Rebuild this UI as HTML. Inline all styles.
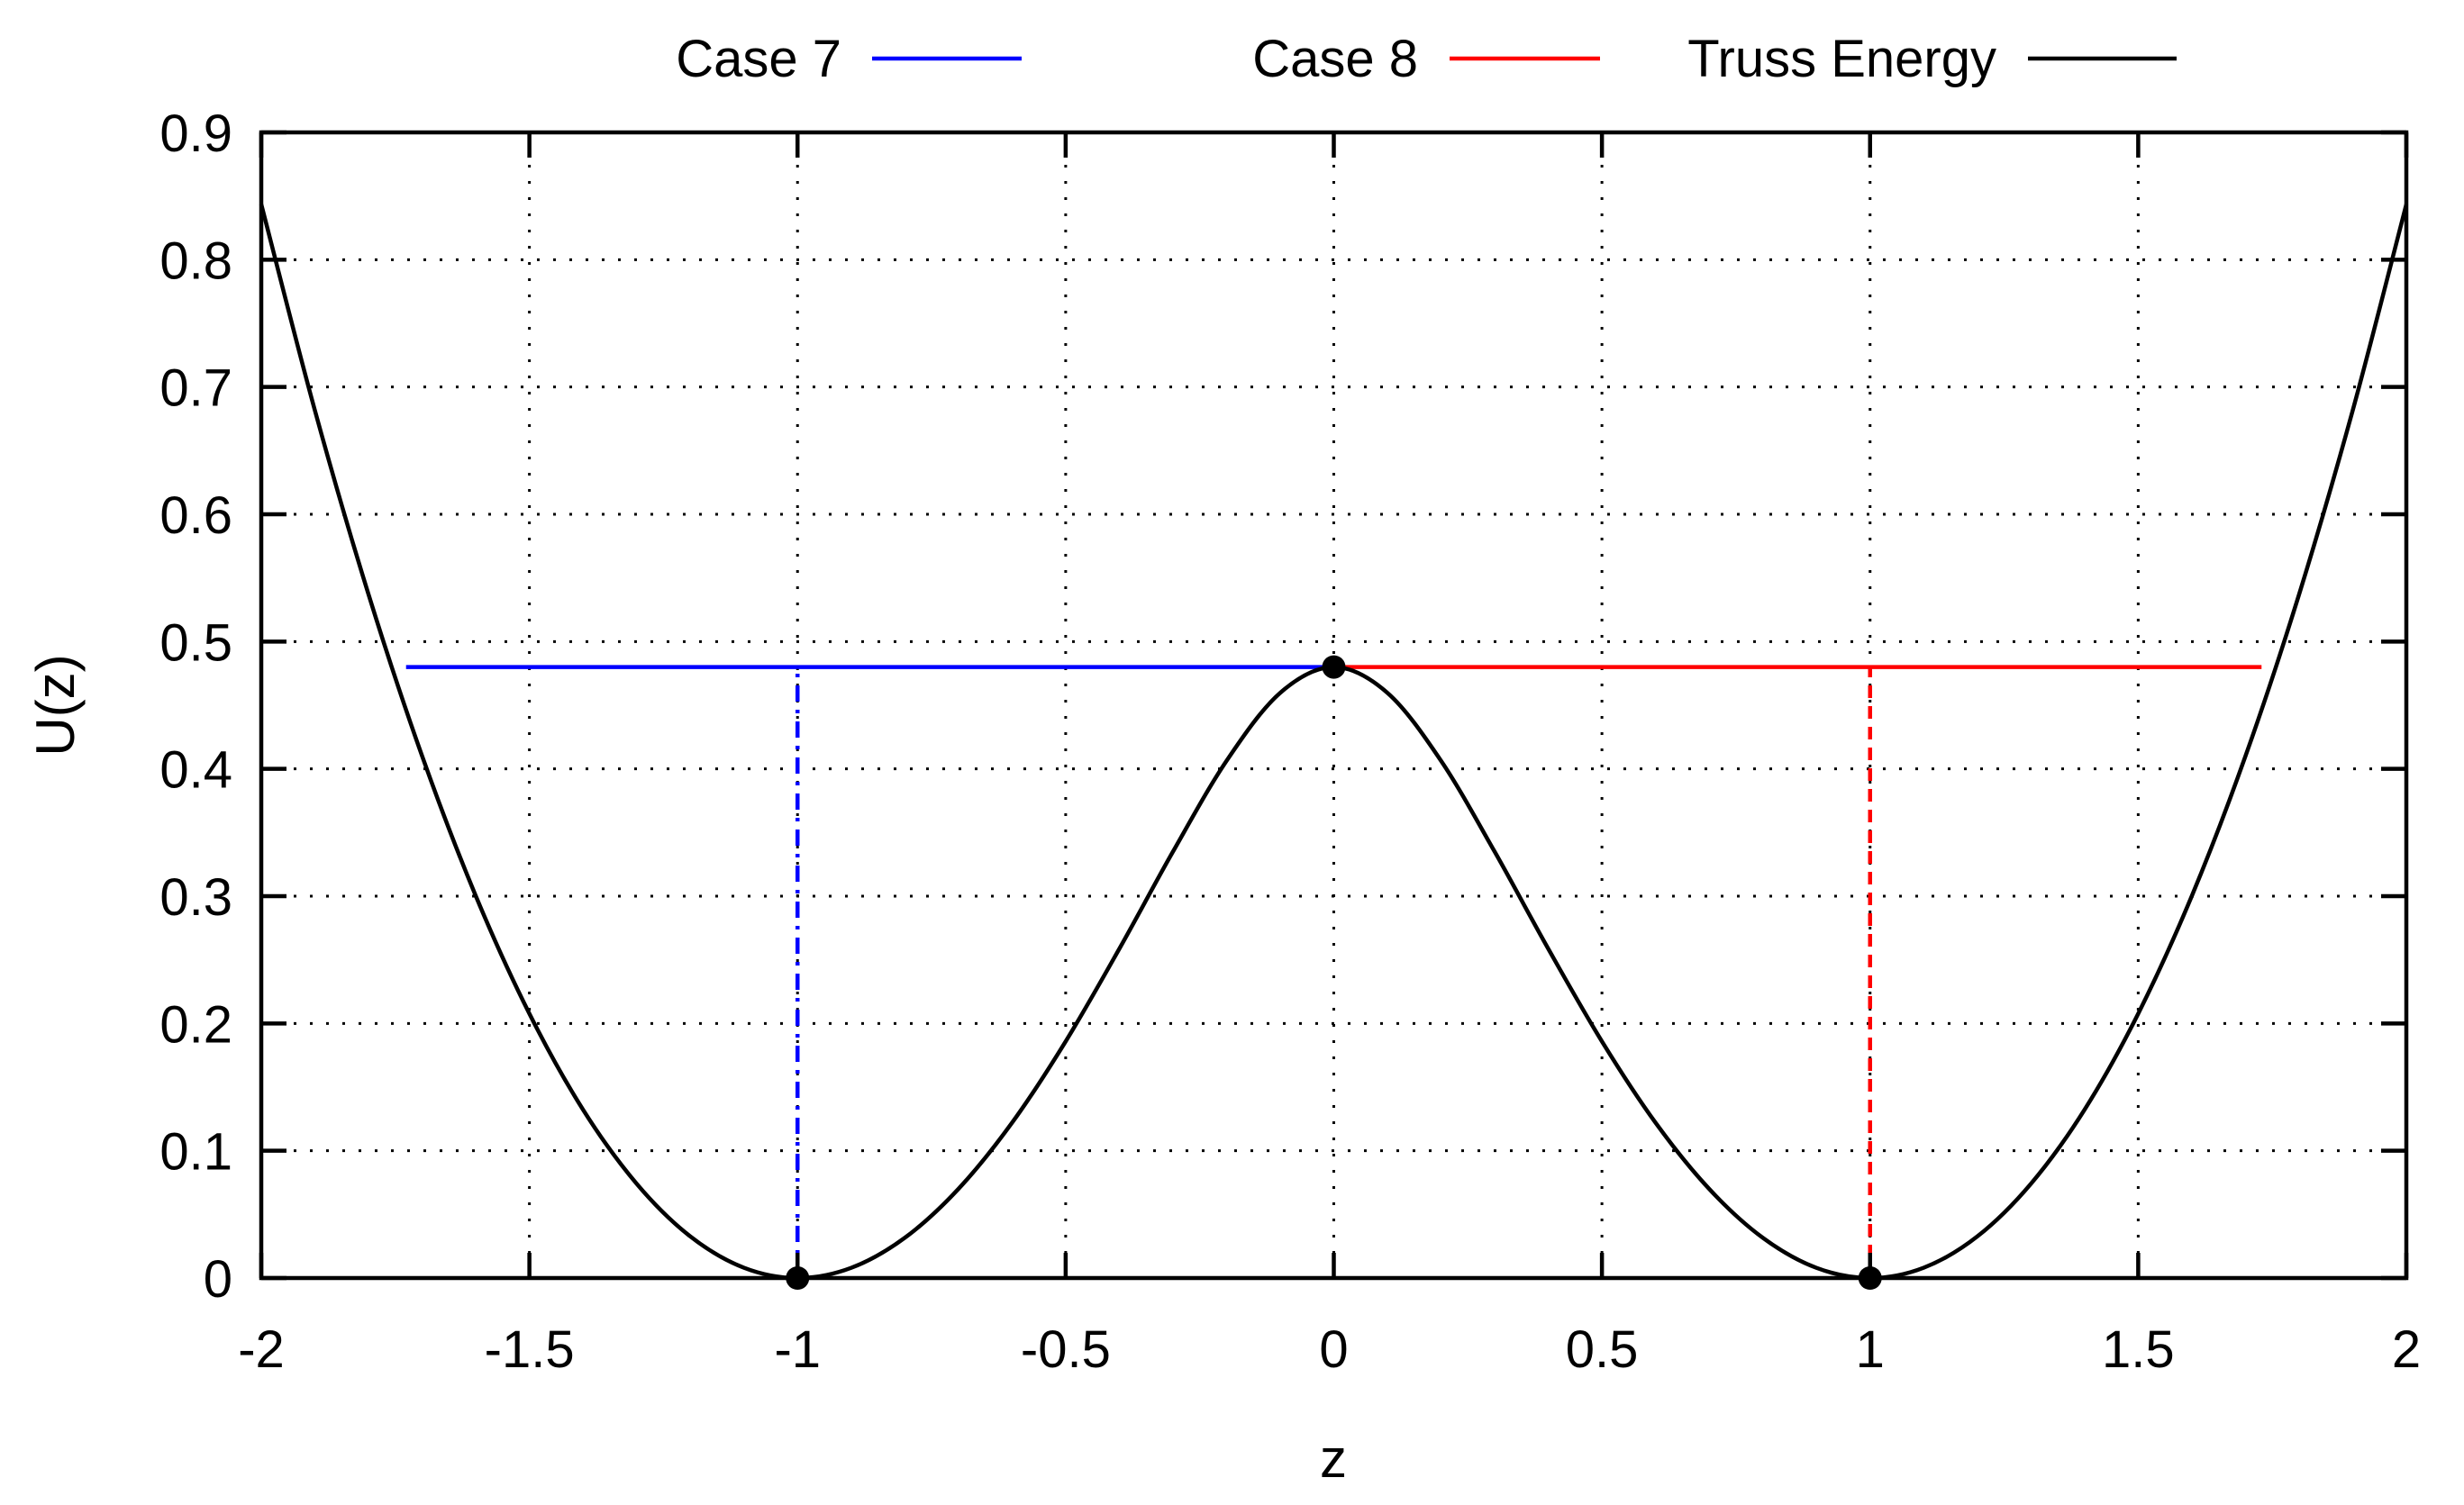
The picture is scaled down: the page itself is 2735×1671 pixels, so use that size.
<!DOCTYPE html>
<html><head><meta charset="utf-8"><style>
html,body{margin:0;padding:0;background:#fff}
svg text{font-family:"Liberation Sans","DejaVu Sans",sans-serif;fill:#000}
</style></head><body>
<svg id="chart" width="2735" height="1666" viewBox="0 0 2735 1666" xmlns="http://www.w3.org/2000/svg">
<rect width="2735" height="1666" fill="#fff"/>
<g id="grid"></g>
<g id="series"></g>
<rect x="290" y="147" width="2381" height="1272" fill="none" stroke="#000" stroke-width="4.5"/>
<g id="ticks"></g>
<text x="1480" y="1640" font-size="60" text-anchor="middle">z</text>
<text transform="translate(82,783) rotate(-90)" font-size="60" text-anchor="middle">U(z)</text>
<g>
<g><text x="934" y="85" font-size="58" text-anchor="end">Case 7</text><line x1="968" y1="65" x2="1134" y2="65" stroke="#00f" stroke-width="4.5"/></g>
<g><text x="1574" y="85" font-size="58" text-anchor="end">Case 8</text><line x1="1609" y1="65" x2="1776" y2="65" stroke="#f00" stroke-width="4.5"/></g>
<g><text x="2216" y="85" font-size="58" text-anchor="end">Truss Energy</text><line x1="2251" y1="65" x2="2416" y2="65" stroke="#000" stroke-width="4.5"/></g>
</g>
</svg>
<script>
const xTicks=[-2,-1.5,-1,-0.5,0,0.5,1,1.5,2];
const xTickLabels=["-2","-1.5","-1","-0.5","0","0.5","1","1.5","2"];
const yTicks=[0,0.1,0.2,0.3,0.4,0.5,0.6,0.7,0.8,0.9];
const yTickLabels=["0","0.1","0.2","0.3","0.4","0.5","0.6","0.7","0.8","0.9"];
const trussZ=[-2,-1.9,-1.8,-1.7,-1.6,-1.5,-1.4,-1.3,-1.2,-1.1,-1,-0.9,-0.8,-0.7,-0.6,-0.5,-0.4,-0.3,-0.2,-0.1,0,0.1,0.2,0.3,0.4,0.5,0.6,0.7,0.8,0.9,1,1.1,1.2,1.3,1.4,1.5,1.6,1.7,1.8,1.9,2];
const trussU=[0.8435,0.6816,0.5371,0.41,0.3002,0.2077,0.1323,0.0741,0.0327,0.0081,0,0.008,0.0316,0.07,0.122,0.1859,0.2586,0.3349,0.4063,0.4597,0.48,0.4597,0.4063,0.3349,0.2586,0.1859,0.122,0.07,0.0316,0.008,0,0.0081,0.0327,0.0741,0.1323,0.2077,0.3002,0.41,0.5371,0.6816,0.8435];
const case7Level=[-1.73,0,0.48];
const case8Level=[0,1.73,0.48];
const case7Min=[-1,0];
const case8Min=[1,0];
const pointsZ=[-1,0,1];
const pointsU=[0,0.48,0];

const X0=290,X1=2671,Y0=1419,Y1=147;
const sx=v=>X0+(v+2)/4*(X1-X0);
const sy=v=>Y0-v/0.9*(Y0-Y1);
const NS="http://www.w3.org/2000/svg";
function mk(parent,tag,attrs){const e=document.createElementNS(NS,tag);for(const k in attrs)e.setAttribute(k,attrs[k]);document.getElementById(parent).appendChild(e);return e;}

xTicks.forEach((t,i)=>{
 const x=sx(t);
 if(i>0&&i<xTicks.length-1){const g=mk('grid','line',{x1:x,y1:Y1,x2:x,y2:Y0,stroke:'#000','stroke-width':3,'stroke-dasharray':'3 15'});
 
 }
 const a=mk('ticks','path',{d:`M${x},${Y0}v-28M${x},${Y1}v28`,stroke:'#000','stroke-width':4.5});
 
 
 const l=mk('ticks','text',{x:x,y:1518,'font-size':58,'text-anchor':'middle'});l.textContent=xTickLabels[i];
 
 
});
yTicks.forEach((t,i)=>{
 const y=sy(t);
 if(i>0&&i<yTicks.length-1){const g=mk('grid','line',{x1:X0,y1:y,x2:X1,y2:y,stroke:'#000','stroke-width':3,'stroke-dasharray':'3 15'});
 
 }
 const a=mk('ticks','path',{d:`M${X0},${y}h28M${X1},${y}h-28`,stroke:'#000','stroke-width':4.5});
 
 
 const l=mk('ticks','text',{x:258,y:y+21,'font-size':58,'text-anchor':'end'});l.textContent=yTickLabels[i];
 
 
});
const P=trussZ.map((z,i)=>[sx(z),sy(trussU[i])]);
let d=`M${P[0][0]},${P[0][1]}`;
for(let i=0;i<P.length-1;i++){const p0=P[Math.max(0,i-1)],p1=P[i],p2=P[i+1],p3=P[Math.min(P.length-1,i+2)];
 d+=`C${p1[0]+(p2[0]-p0[0])/6},${p1[1]+(p2[1]-p0[1])/6} ${p2[0]-(p3[0]-p1[0])/6},${p2[1]-(p3[1]-p1[1])/6} ${p2[0]},${p2[1]}`;}
const h7=mk('series','line',{x1:sx(case7Level[0]),y1:sy(case7Level[2]),x2:sx(case7Level[1]),y2:sy(case7Level[2]),stroke:'#00f','stroke-width':4.5});


const h8=mk('series','line',{x1:sx(case8Level[0]),y1:sy(case8Level[2]),x2:sx(case8Level[1]),y2:sy(case8Level[2]),stroke:'#f00','stroke-width':4.5});


const v7=mk('series','line',{x1:sx(case7Min[0]),y1:sy(case7Min[1]),x2:sx(case7Min[0]),y2:sy(case7Level[2]),stroke:'#00f','stroke-width':4.5,'stroke-dasharray':'18 9 4 9'});


const v8=mk('series','line',{x1:sx(case8Min[0]),y1:sy(case8Min[1]),x2:sx(case8Min[0]),y2:sy(case8Level[2]),stroke:'#f00','stroke-width':4.5,'stroke-dasharray':'14 9'});


const c=mk('series','path',{d:d,fill:'none',stroke:'#000','stroke-width':4.5});


pointsZ.forEach((z,i)=>{const p=mk('series','circle',{cx:sx(z),cy:sy(pointsU[i]),r:13,fill:'#000'});
 
 });
</script>
</body></html>
